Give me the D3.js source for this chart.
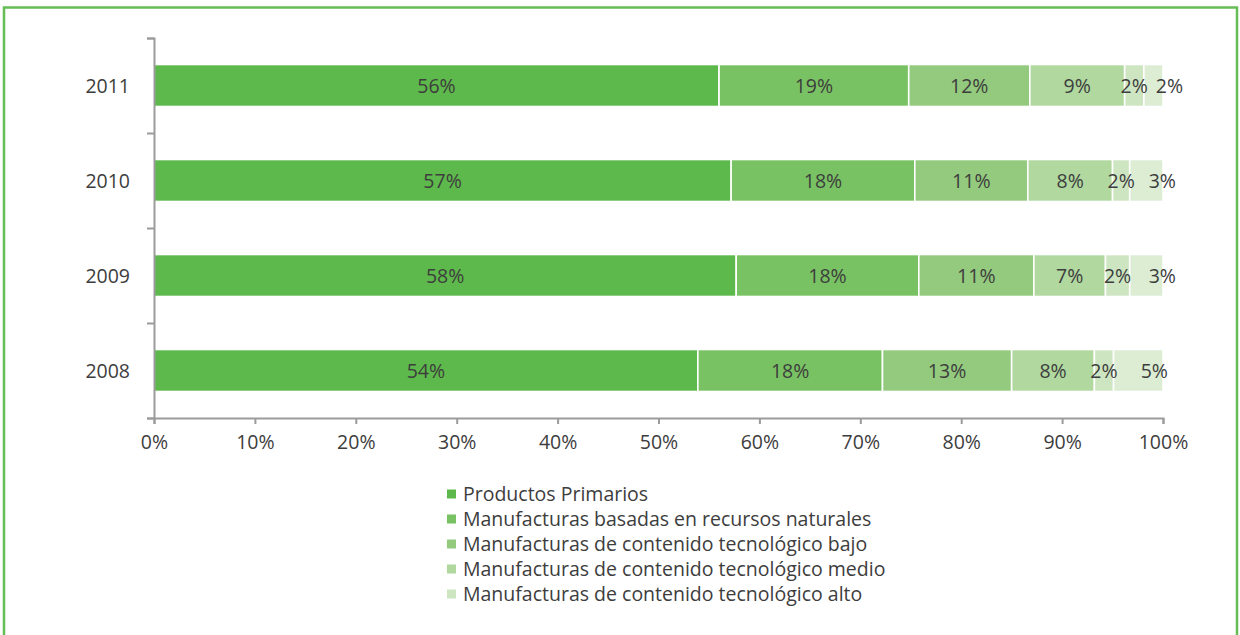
<!DOCTYPE html>
<html>
<head>
<meta charset="utf-8">
<script src="https://cdn.jsdelivr.net/npm/d3@7"></script>
<style>
  html, body { margin: 0; padding: 0; background: #fff; }
  svg { display: block; }
  text { font-family: "Open Sans", "Noto Sans", sans-serif; fill: #3d3d3d; }
</style>
</head>
<body>
<svg id="chart" width="1240" height="635"></svg>
<script>
// Composition of exports by technological content, share of total (%)
const years = ["2011", "2010", "2009", "2008"];
const seriesNames = [
  "Productos Primarios",
  "Manufacturas basadas en recursos naturales",
  "Manufacturas de contenido tecnológico bajo",
  "Manufacturas de contenido tecnológico medio",
  "Manufacturas de contenido tecnológico alto",
  "Otros"
];
const productosPrimarios = [56.0, 57.2, 57.7, 53.9];
const recursosNaturales  = [18.8, 18.2, 18.1, 18.3];
const tecnologicoBajo    = [12.0, 11.2, 11.4, 12.8];
const tecnologicoMedio   = [9.4, 8.4, 7.1, 8.2];
const tecnologicoAlto    = [1.9, 1.7, 2.4, 1.9];
const otros              = [1.9, 3.3, 3.3, 4.9];
const xTicks = [0, 10, 20, 30, 40, 50, 60, 70, 80, 90, 100];
const legendNames = seriesNames.slice(0, 5);

const colors = ["#5db94b", "#79c263", "#93ca7e", "#b0d89f", "#cde6c1", "#dcedd4"];

const seriesValues = [productosPrimarios, recursosNaturales, tecnologicoBajo,
                      tecnologicoMedio, tecnologicoAlto, otros];
const table = years.map((year, i) => {
  const row = { year };
  seriesNames.forEach((name, s) => { row[name] = seriesValues[s][i]; });
  return row;
});

const FONT = "19.5px";
const svg = d3.select("#chart");

// outer frame
svg.append("rect")
  .attr("x", 4).attr("y", 7.5)
  .attr("width", 1233).attr("height", 700)
  .attr("fill", "none")
  .attr("stroke", "#66bd55")
  .attr("stroke-width", 2.5);

const x = d3.scaleLinear().domain([0, 100]).range([154, 1163]);
const y = d3.scaleBand().domain(years).range([38, 418])
  .paddingInner(0.558).paddingOuter(0.279);
const color = d3.scaleOrdinal().domain(seriesNames).range(colors);

const stacked = d3.stack().keys(seriesNames)(table);

// bars
const layers = svg.append("g").selectAll("g")
  .data(stacked).join("g")
  .attr("fill", d => color(d.key));

layers.selectAll("rect")
  .data(d => d)
  .join("rect")
  .attr("x", d => x(d[0]))
  .attr("y", d => y(d.data.year))
  .attr("width", d => x(d[1]) - x(d[0]))
  .attr("height", y.bandwidth())
  .attr("stroke", "#fff")
  .attr("stroke-width", 1.6);

// value labels
const lastKey = seriesNames[seriesNames.length - 1];
stacked.forEach(layer => {
  svg.append("g").selectAll("text")
    .data(layer)
    .join("text")
    .attr("x", d => (x(d[0]) + x(d[1])) / 2 + (layer.key === lastKey ? 16 : 0))
    .attr("y", d => y(d.data.year) + y.bandwidth() / 2)
    .attr("dy", "0.36em")
    .attr("text-anchor", "middle")
    .style("font-size", FONT)
    .text(d => Math.round(d[1] - d[0]) + "%");
});

// x axis
const xAxis = svg.append("g")
  .attr("transform", "translate(0,418)")
  .call(d3.axisBottom(x).tickValues(xTicks).tickSize(6).tickPadding(11)
    .tickFormat(d => d + "%"));
xAxis.select(".domain").attr("stroke", "#9b9b9b").attr("stroke-width", 2);
xAxis.selectAll(".tick line").attr("stroke", "#9b9b9b").attr("stroke-width", 2);
xAxis.selectAll(".tick text").style("font-size", FONT).attr("fill", "#3d3d3d")
  .style("font-family", "'Open Sans', sans-serif");

// y axis: ticks between categories
const yEdges = d3.scaleLinear().domain([0, years.length]).range([418, 38]);
const yAxis = svg.append("g")
  .attr("transform", "translate(154,0)")
  .call(d3.axisLeft(yEdges).tickValues(d3.range(years.length + 1))
    .tickSize(7).tickFormat(""));
yAxis.select(".domain").attr("stroke", "#9b9b9b").attr("stroke-width", 2);
yAxis.selectAll(".tick line").attr("stroke", "#9b9b9b").attr("stroke-width", 2);

// year labels
svg.append("g").selectAll("text")
  .data(years).join("text")
  .attr("x", 130)
  .attr("y", d => y(d) + y.bandwidth() / 2)
  .attr("dy", "0.36em")
  .attr("text-anchor", "end")
  .style("font-size", FONT)
  .text(d => d);

// legend
const legend = svg.append("g").attr("transform", "translate(447,494)");
const item = legend.selectAll("g")
  .data(legendNames).join("g")
  .attr("transform", (d, i) => `translate(0,${i * 25})`);
item.append("rect")
  .attr("x", 0).attr("y", -4.5)
  .attr("width", 9).attr("height", 9)
  .attr("fill", d => color(d));
item.append("text")
  .attr("x", 16).attr("y", 0)
  .attr("dy", "0.36em")
  .style("font-size", FONT)
  .text(d => d);
</script>
</body>
</html>
